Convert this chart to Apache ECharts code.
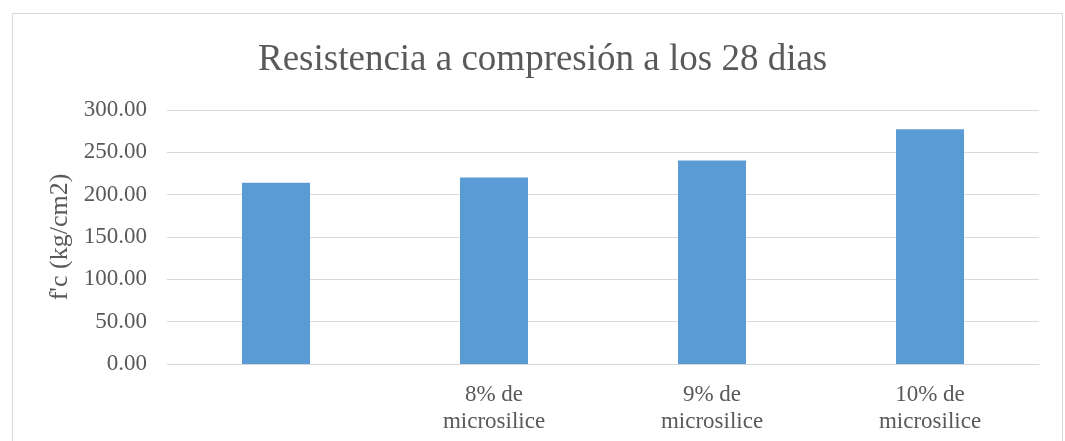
<!DOCTYPE html>
<html>
<head>
<meta charset="utf-8">
<script src="https://cdn.jsdelivr.net/npm/echarts@6/dist/echarts.min.js"></script>
<style>
  html, body { margin: 0; padding: 0; background: #fff; }
  #chart { width: 1065px; height: 441px; }
</style>
</head>
<body>
<div id="chart"></div>
<script>
// Compressive strength at 28 days, by microsilica content
const categories = ['', '8% de\nmicrosilice', '9% de\nmicrosilice', '10% de\nmicrosilice'];
const strength = [214.2, 220.4, 240.5, 277.4];
const yTicks = { min: 0, max: 300, interval: 50 };

const serif = '"Liberation Serif", "DejaVu Serif", serif';
const textColor = '#595959';

const chart = echarts.init(document.getElementById('chart'), null, { renderer: 'canvas' });
chart.setOption({
  backgroundColor: '#fff',
  animation: false,
  graphic: [{
    type: 'rect',
    shape: { x: 12.5, y: 13.5, width: 1050, height: 440 },
    style: { fill: 'none', stroke: '#D9D9D9', lineWidth: 1 },
    silent: true
  }],
  title: {
    text: 'Resistencia a compresión a los 28 dias',
    left: 253,
    top: 37,
    textStyle: { fontFamily: serif, fontSize: 37, fontWeight: 'normal', color: textColor }
  },
  grid: { left: 167, right: 26, top: 110, bottom: 77, containLabel: false },
  xAxis: {
    type: 'category',
    data: categories,
    axisLine: { show: true, lineStyle: { color: '#D9D9D9', width: 1 } },
    axisTick: { show: false },
    axisLabel: {
      color: textColor, fontFamily: serif, fontSize: 23, lineHeight: 27, margin: 17,
      interval: 0
    }
  },
  yAxis: {
    type: 'value',
    min: yTicks.min, max: yTicks.max, interval: yTicks.interval,
    name: "f'c (kg/cm2)",
    nameLocation: 'middle',
    nameGap: 94,
    nameRotate: 90,
    nameTextStyle: { color: textColor, fontFamily: serif, fontSize: 26 },
    axisLine: { show: false },
    axisTick: { show: false },
    splitLine: { lineStyle: { color: '#D9D9D9', width: 1 } },
    axisLabel: {
      color: textColor, fontFamily: serif, fontSize: 23, margin: 20,
      formatter: v => v.toFixed(2)
    }
  },
  series: [{
    type: 'bar',
    data: strength,
    barWidth: 68,
    itemStyle: { color: '#5B9BD5' }
  }]
});
</script>
</body>
</html>
